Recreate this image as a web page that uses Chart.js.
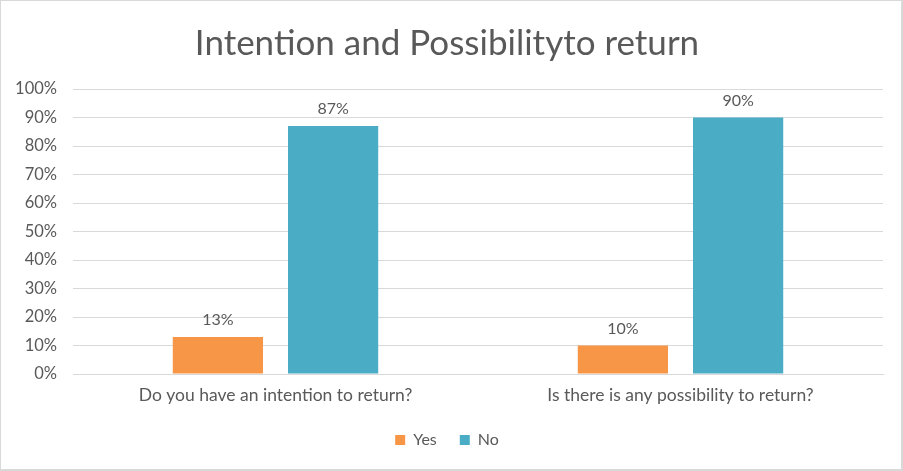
<!DOCTYPE html>
<html>
<head>
<meta charset="utf-8">
<script src="https://cdn.jsdelivr.net/npm/chart.js@4"></script>
<style>
  html, body { margin: 0; padding: 0; background: #fff; }
  #wrap { position: relative; border: 1px solid #d9d9d9; border-right-width: 2px; border-bottom-width: 2px; width: 900px; height: 468px; }
  canvas { display: block; }
</style>
</head>
<body>
<div id="wrap"><canvas id="myChart" width="900" height="468"></canvas></div>
<script>
const categories = ['Do you have an intention to return?', 'Is there is any possibility to return?'];
const yesValues = [0.13, 0.10];
const noValues = [0.87, 0.90];
const seriesNames = ['Yes', 'No'];
const yTicks = [0, 0.1, 0.2, 0.3, 0.4, 0.5, 0.6, 0.7, 0.8, 0.9, 1];

const textColor = '#595959';
const fontFamily = 'Lato, "Open Sans", sans-serif';

// labels above the bars
const valueLabels = {
    id: 'valueLabels',
    afterDatasetsDraw(chart) {
        const c = chart.ctx;
        c.save();
        c.fillStyle = textColor;
        c.font = '16px ' + fontFamily;
        c.textAlign = 'center';
        c.textBaseline = 'bottom';
        chart.data.datasets.forEach((ds, i) => {
            chart.getDatasetMeta(i).data.forEach((bar, j) => {
                c.fillText(Math.round(ds.data[j] * 100) + '%', bar.x, bar.y - 9);
            });
        });
        c.restore();
    }
};

const ctx = document.getElementById('myChart').getContext('2d');
const chart = new Chart(ctx, {
    type: 'bar',
    data: {
        labels: categories,
        datasets: [
            { label: seriesNames[0], data: yesValues, backgroundColor: '#f79646' },
            { label: seriesNames[1], data: noValues, backgroundColor: '#4bacc6' }
        ]
    },
    options: {
        responsive: false,
        animation: false,
        categoryPercentage: 0.569,
        barPercentage: 0.783,
        layout: { padding: { left: 10, right: 18, top: 14, bottom: 11 } },
        plugins: {
            title: {
                display: true,
                text: 'Intention and Possibilityto return',
                color: textColor,
                font: { family: fontFamily, size: 35, weight: 'normal' },
                padding: { top: 8, bottom: 24 }
            },
            legend: {
                position: 'bottom',
                labels: {
                    color: textColor,
                    font: { family: fontFamily, size: 16 },
                    boxWidth: 10,
                    boxHeight: 10,
                    padding: 23
                }
            },
            tooltip: { enabled: false }
        },
        scales: {
            x: {
                grid: { display: false },
                border: { display: true, color: '#d9d9d9' },
                ticks: { color: textColor, font: { family: fontFamily, size: 17.5 }, padding: 3 }
            },
            y: {
                min: 0,
                max: 1,
                afterBuildTicks: (axis) => { axis.ticks = yTicks.map(v => ({ value: v })); },
                afterFit: (axis) => { axis.width = 62; },
                grid: { color: '#d9d9d9', drawTicks: false },
                border: { display: false },
                ticks: {
                    color: textColor,
                    font: { family: fontFamily, size: 16.5 },
                    padding: 16,
                    callback: (v) => Math.round(v * 100) + '%'
                }
            }
        }
    },
    plugins: [valueLabels]
});
</script>
</body>
</html>
